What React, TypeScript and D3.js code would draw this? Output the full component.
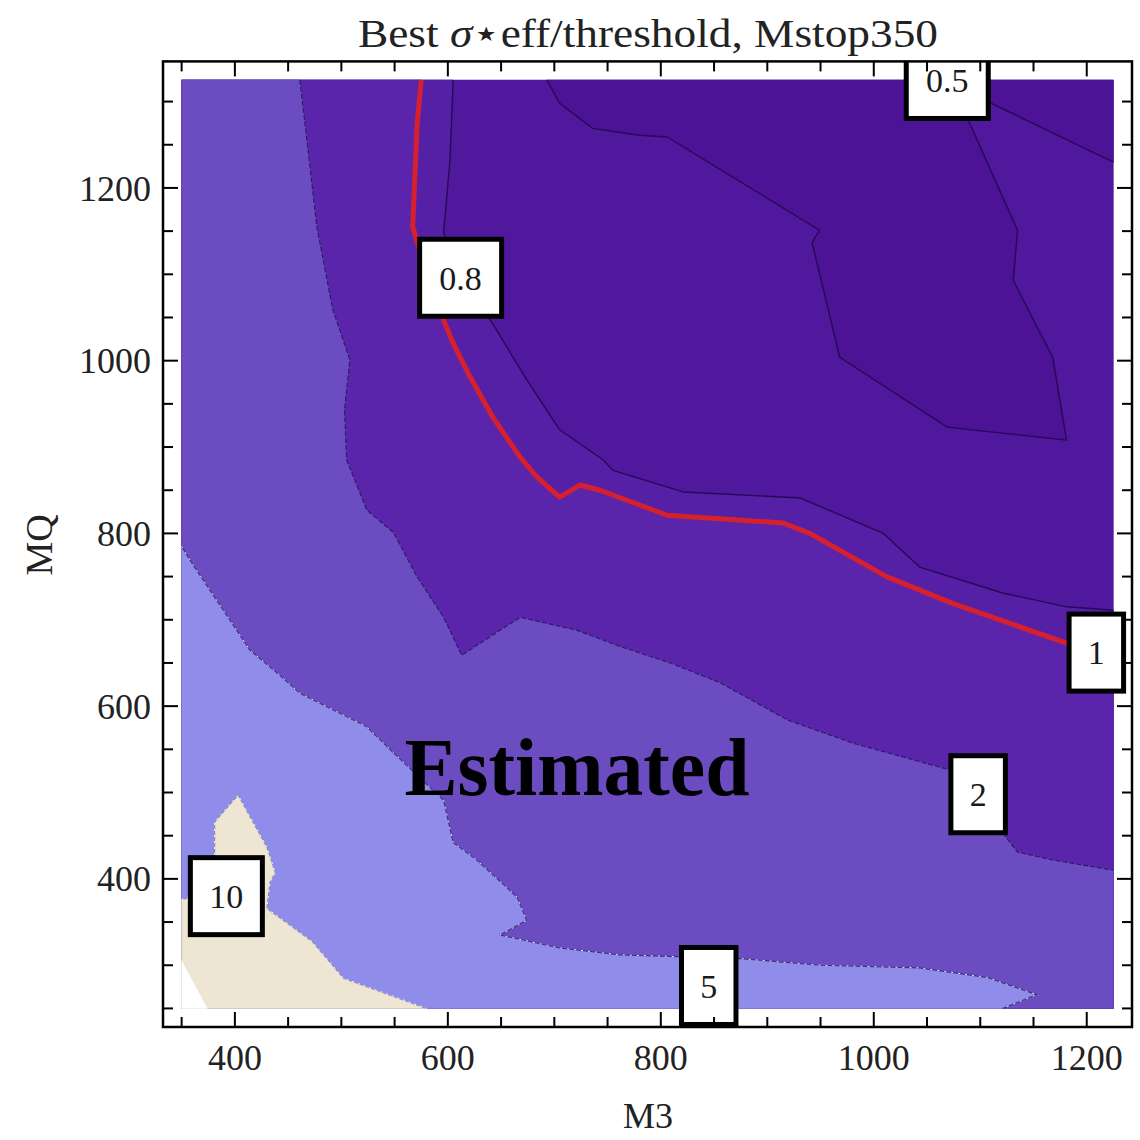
import React from "react";
import * as d3 from "d3";

type P = [number, number];

// ---- axes / ticks ----
const M3_RANGE: P = [350, 1225];
const MQ_RANGE: P = [250, 1325];
const X_MAJOR = [400, 600, 800, 1000, 1200];
const Y_MAJOR = [400, 600, 800, 1000, 1200];
const X_TICKS = d3.range(350, 1226, 50);
const Y_TICKS = d3.range(250, 1301, 50);

// ---- contour lines (M3, MQ) ----
const C05_LOOP: P[] = [[693, 1325], [705, 1298], [736, 1269], [780, 1261], [806, 1259], [949, 1151], [942, 1137], [968, 1004], [1069, 923], [1181, 908], [1168, 1004], [1131, 1093], [1135, 1151], [1090, 1275], [1072, 1325]];
const C05_CORNER: P[] = [[1095, 1325], [1107, 1300], [1225, 1230]];
const C08: P[] = [[605, 1325], [602, 1232], [596, 1148], [615, 1095], [640, 1047], [674, 978], [705, 920], [746, 885], [755, 873], [821, 848], [931, 841], [1009, 800], [1043, 761], [1121, 731], [1181, 715], [1225, 711]];
const C1: P[] = [[575, 1325], [571, 1271], [567, 1155], [580, 1100], [597, 1044], [605, 1020], [621, 981], [642, 935], [668, 888], [684, 865], [705, 842], [724, 856], [743, 850], [806, 821], [915, 812], [940, 800], [1012, 750], [1074, 719], [1181, 673], [1225, 655]];
const C2: P[] = [[461, 1325], [468, 1252], [477, 1155], [492, 1059], [508, 1001], [503, 943], [505, 885], [524, 827], [549, 801], [571, 750], [596, 703], [613, 659], [668, 703], [721, 688], [762, 669], [809, 650], [856, 627], [919, 584], [981, 557], [1072, 526], [1098, 490], [1125, 447], [1135, 431], [1168, 422], [1225, 410]];
const C5: P[] = [[350, 785], [361, 763], [414, 665], [440, 638], [461, 615], [524, 576], [549, 546], [596, 491], [605, 442], [627, 422], [665, 379], [674, 352], [649, 335], [705, 320], [762, 312], [815, 310], [872, 308], [950, 300], [1043, 297], [1106, 286], [1153, 266], [1121, 250]];
const C10: P[] = [[350, 376], [376, 385], [381, 428], [381, 466], [403, 497], [430, 437], [438, 407], [433, 396], [430, 366], [473, 327], [502, 285], [580, 250]];
const NO_DATA: P[] = [[350, 305], [350, 250], [374, 250]];

// band colours, from lowest value band to highest
const BAND_COLORS = ["#4C1396", "#50189C", "#5520A5", "#5A25AA", "#6C4DC1", "#8F8CEA", "#EEE6D2"];

// contour labels (value, M3, MQ)
const LABEL_TEXT = ["0.5", "0.8", "1", "2", "5", "10"];
const LABEL_M3 = [1069, 612, 1209, 1098, 845, 392];
const LABEL_MQ = [1325, 1096, 662, 498, 276, 380];

const W = 1140;
const H = 1140;
const padX = (M3_RANGE[1] - M3_RANGE[0]) * 0.02;
const padY = (MQ_RANGE[1] - MQ_RANGE[0]) * 0.02;
const x = d3.scaleLinear().domain([M3_RANGE[0] - padX, M3_RANGE[1] + padX]).range([163, 1132]);
const y = d3.scaleLinear().domain([MQ_RANGE[0] - padY, MQ_RANGE[1] + padY]).range([1027, 61.4]);

const line = d3.line<P>().x((d) => x(d[0])).y((d) => y(d[1]));
const closed = (pts: P[]) => line(pts) + "Z";

const BL: P = [M3_RANGE[0], MQ_RANGE[0]];
const BR: P = [M3_RANGE[1], MQ_RANGE[0]];
const TL: P = [M3_RANGE[0], MQ_RANGE[1]];
const TR: P = [M3_RANGE[1], MQ_RANGE[1]];

const SERIF = "'Liberation Serif', 'Times New Roman', serif";

export default function App() {
  const regions: { pts: P[]; color: string }[] = [
    { pts: [TL, TR, BR, BL], color: BAND_COLORS[1] },
    { pts: C05_LOOP, color: BAND_COLORS[0] },
    { pts: [...C05_CORNER, TR], color: BAND_COLORS[0] },
    { pts: [...C08, BR, BL, TL], color: BAND_COLORS[2] },
    { pts: [...C1, BR, BL, TL], color: BAND_COLORS[3] },
    { pts: [...C2, BR, BL, TL], color: BAND_COLORS[4] },
    { pts: [...C5, BL], color: BAND_COLORS[5] },
    { pts: [...C10, BL], color: BAND_COLORS[6] },
    { pts: NO_DATA, color: "#ffffff" },
  ];

  const fx0 = x.range()[0], fx1 = x.range()[1];
  const fy0 = y.range()[1], fy1 = y.range()[0];

  const ticks: JSX.Element[] = [];
  X_TICKS.forEach((v, i) => {
    const len = X_MAJOR.includes(v) ? 15 : 10;
    const px = x(v);
    ticks.push(<line key={"xb" + i} x1={px} x2={px} y1={fy1} y2={fy1 - len} stroke="#000" strokeWidth={2} />);
    ticks.push(<line key={"xt" + i} x1={px} x2={px} y1={fy0} y2={fy0 + len} stroke="#000" strokeWidth={2} />);
  });
  Y_TICKS.forEach((v, i) => {
    const len = Y_MAJOR.includes(v) ? 15 : 10;
    const py = y(v);
    ticks.push(<line key={"yl" + i} x1={fx0} x2={fx0 + len} y1={py} y2={py} stroke="#000" strokeWidth={2} />);
    ticks.push(<line key={"yr" + i} x1={fx1} x2={fx1 - len} y1={py} y2={py} stroke="#000" strokeWidth={2} />);
  });

  return (
    <svg width={W} height={H} viewBox={`0 0 ${W} ${H}`} style={{ position: "absolute", left: 0, top: 0, display: "block" }}>
      <defs>
        <clipPath id="frameClip">
          <rect x={fx0} y={fy0} width={fx1 - fx0} height={fy1 - fy0} />
        </clipPath>
      </defs>
      <rect x={0} y={0} width={W} height={H} fill="#fff" />

      {/* filled bands */}
      <g>
        {regions.map((r, i) => (
          <path key={i} d={closed(r.pts)} fill={r.color} stroke={r.color} strokeWidth={0.5} />
        ))}
      </g>

      {/* contour lines */}
      <g fill="none" strokeLinejoin="round">
        <path d={line(C05_LOOP)!} stroke="#260a55" strokeWidth={1.4} />
        <path d={line(C05_CORNER)!} stroke="#260a55" strokeWidth={1.4} />
        <path d={line(C08)!} stroke="#260a55" strokeWidth={1.4} />
        <path d={line(C2)!} stroke="#2e1a66" strokeWidth={1.2} strokeDasharray="5 2" />
        <path d={line(C5)!} stroke="#3d2f80" strokeWidth={1.1} />
        <path d={line(C5)!} stroke="#e8e6f8" strokeWidth={1} strokeDasharray="2 5" />
        <path d={line(C10)!} stroke="#8a86c0" strokeWidth={1.1} />
        <path d={line(C10)!} stroke="#ffffff" strokeWidth={1} strokeDasharray="2 4" />
        <path d={line(C1)!} stroke="#D6202E" strokeWidth={5} />
      </g>

      {/* contour labels */}
      <g clipPath="url(#frameClip)">
        {LABEL_TEXT.map((t, i) => {
          const digits = t.replace(/[^0-9]/g, "").length;
          const dots = t.length - digits;
          const bw = 42 + 17.5 * digits + 10 * dots;
          const bh = 82;
          const cx = x(LABEL_M3[i]);
          const cy = y(LABEL_MQ[i]);
          return (
            <g key={i}>
              <rect x={cx - bw / 2 + 2.5} y={cy - bh / 2 + 2.5} width={bw - 5} height={bh - 5} fill="#fff" stroke="#000" strokeWidth={5} />
              <text x={cx} y={cy} dy="0.35em" textAnchor="middle" fontFamily={SERIF} fontSize={34} fill="#1a1a1a">
                {t}
              </text>
            </g>
          );
        })}
      </g>

      {/* watermark text */}
      <text x={577} y={795} textAnchor="middle" fontFamily={SERIF} fontWeight="bold" fontSize={82} fill="#000" textLength={345} lengthAdjust="spacingAndGlyphs">
        Estimated
      </text>

      {/* ticks and frame */}
      {ticks}
      <rect x={fx0} y={fy0} width={fx1 - fx0} height={fy1 - fy0} fill="none" stroke="#000" strokeWidth={2.5} />

      {/* tick labels */}
      {X_MAJOR.map((v) => (
        <text key={"xl" + v} x={x(v)} y={1070} textAnchor="middle" fontFamily={SERIF} fontSize={36} fill="#222">
          {v}
        </text>
      ))}
      {Y_MAJOR.map((v) => (
        <text key={"yl" + v} x={151} y={y(v)} dy="0.35em" textAnchor="end" fontFamily={SERIF} fontSize={36} fill="#222">
          {v}
        </text>
      ))}

      {/* axis titles */}
      <text x={648} y={1128} textAnchor="middle" fontFamily={SERIF} fontSize={36} fill="#222">
        M3
      </text>
      <text transform={`translate(52,545) rotate(-90)`} textAnchor="middle" fontFamily={SERIF} fontSize={38} fill="#222">
        MQ
      </text>

      {/* title */}
      <text x={648} y={47} textAnchor="middle" fontFamily={SERIF} fontSize={40} fill="#222" textLength={580} lengthAdjust="spacingAndGlyphs">
        Best <tspan fontStyle="italic">σ</tspan>⋆eff/threshold, Mstop350
      </text>
    </svg>
  );
}
